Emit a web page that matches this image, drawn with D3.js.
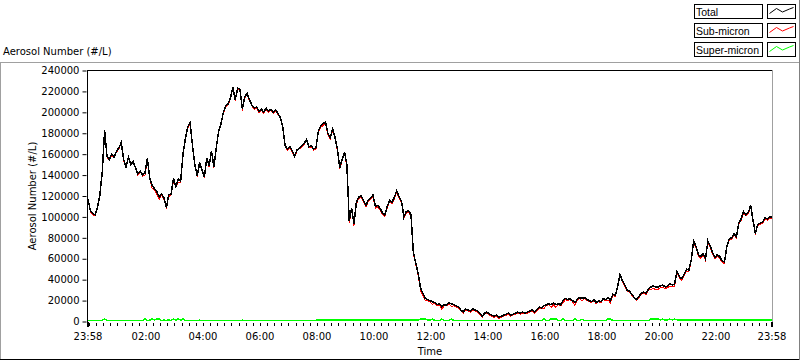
<!DOCTYPE html>
<html><head><meta charset="utf-8">
<script src="https://cdn.jsdelivr.net/npm/d3@7"></script>
<style>
html,body{margin:0;padding:0;background:#fff;}
svg{display:block;font-family:"DejaVu Sans",sans-serif;font-size:10px;}
</style></head><body>
<svg id="c" width="800" height="361"></svg>
<script>
// ---- data: 5-minute samples from 23:58 to 23:58 next day, values in thousands (#/L)
const totalK = [
117,106,103,102,109,121,143,183,158,155,160,157,
163,166,171,155,148,157,150,153,147,141,144,140,
142,156,137,130,127,124,119,122,118,109,121,122,
137,129,136,134,160,175,186,190,168,150,139,152,
145,138,156,149,163,148,166,182,189,200,206,208,
214,224,212,223,222,203,215,218,212,207,204,205,
201,203,200,204,201,203,200,202,199,195,186,168,
165,167,163,158,164,166,168,170,174,167,168,165,
166,182,187,189,191,180,176,184,176,165,147,155,
162,150,96,108,93,114,119,120,116,111,116,118,
121,110,111,108,104,102,110,116,114,119,125,119,
115,100,105,106,102,66,56,46,32,27,22,21,
20,19,18,16,17,14,16,16,18,17,16,15,
14,11,9,12,11,10,12,11,10,8,5,8,
9,7,6,5,6,4,5,6,7,8,6,7,
8,9,8,9,8,9,10,11,9,11,14,13,
15,16,17,16,18,16,17,16,20,22,21,22,
20,18,21,23,22,23,21,20,19,21,18,20,
19,22,21,23,20,26,25,33,45,39,35,30,
29,26,23,21,24,27,28,27,31,33,34,33,
33,34,35,33,34,36,35,36,48,43,41,45,
50,49,59,77,72,64,62,65,60,77,72,66,
61,64,62,58,57,72,79,80,84,81,94,98,
105,102,104,111,97,84,93,94,95,99,98,100,100
];
const superK = [
0.8,1,0.9,1,0.8,1,1.2,2.5,1,0.9,1,0.8,
1,0.9,1,0.8,1,1,0.9,1,0.8,1,1.1,1,
2.4,1,1.2,2.6,1.4,2.8,2.2,1,1.3,1,1.5,1,
2.5,1,2.6,1.2,2.4,1,1,0.9,1.1,1,1,1.2,
1,0.9,1,1.1,1,1.2,1,0.9,1,1.1,1,1,
1,1.1,1,0.9,1,1.2,1,1,0.9,1,1.1,1,
1,1,0.9,1,1.1,1,1,0.9,1,1,1.1,1,
1,0.9,1,1.1,1,1,1.2,1,1,0.9,1,1.1,
1.2,1.4,1.3,1.5,1.4,1.6,1.4,1.5,1.3,1.4,1.5,1.4,
1.5,1.4,1.6,1.5,1.4,1.5,1.6,1.4,1.5,1.5,1.6,1.4,
1.5,1.6,1.4,1.5,1.5,1.4,1.6,1.5,1.4,1.5,1.6,1.5,
1.4,1.5,1.5,1.6,1.4,1.5,1.6,1.5,2.4,2.5,2.2,1.3,
1.2,2.4,1,1.1,1,2.3,1,1.1,1,2.4,1,1,
1,1.1,1,0.9,1,1,1.1,1,0.9,1,1,1.1,
1,0.9,1,1.1,1,1,0.9,1,1.1,1,1,0.9,
1,1.1,1,1,0.9,1,1.1,1,1,1.1,1,1,
2.4,1,1,2.5,2.3,2.5,1,1,2.4,1,1,1,
1,2.4,1,1,2.3,1,1,1.1,1,1,1,1,
1,1,1,2.4,2.3,1,1,1,1,1,1,1,
1,1.1,1,1,1,1,1,1,1,2.4,2.2,2.5,
2.3,1.5,2.2,1.5,1.6,2.3,1.5,2.2,1.6,1.5,1.6,1.5,
1.5,1.6,1.5,1.5,1.6,1.5,1.5,1.6,1.5,1.5,1.6,1.5,
1.5,1.5,1.6,1.5,1.5,1.2,1.2,1.2,1.2,1.2,1.2,1.2,
1.2,1.2,1.2,1.2,1.2,1.2,1.2,1.2,1.2,1.2,1.2,1.2,1.2
];
const stepMinutes = 5;
const yTicks = [0,20000,40000,60000,80000,100000,120000,140000,160000,180000,200000,220000,240000];
const xTickHours = [2,4,6,8,10,12,14,16,18,20,22];
const seriesNames = ["Total","Sub-micron","Super-micron"];
const seriesColors = ["#000000","#ff0000","#00ff00"];
const titleText = "Aerosol Number (#/L)";
const xTitle = "Time";

// ---- layout
const svg = d3.select("#c");
const X0 = 88, X1 = 772, Y0 = 321.5, Y1 = 70.5;
const start = new Date(2000,0,1,23,58);
const end = new Date(2000,0,2,23,58);
const x = d3.scaleTime().domain([start,end]).range([X0,X1]);
const y = d3.scaleLinear().domain([0,240000]).range([Y0,Y1]);

const tOf = i => new Date(start.getTime() + i*stepMinutes*60000);
const total = totalK.map((v,i)=>({t:tOf(i), v:v*1000}));
const sup = superK.map((v,i)=>({t:tOf(i), v:v*1000}));
const sub = totalK.map((v,i)=>({t:tOf(i), v:(v-superK[i])*1000}));

// outer frame
svg.append("line").attr("x1",0).attr("x2",800).attr("y1",62.5).attr("y2",62.5).attr("stroke","#a0a0a0");
svg.append("line").attr("x1",0.5).attr("x2",0.5).attr("y1",62).attr("y2",360).attr("stroke","#a0a0a0");
svg.append("line").attr("x1",0).attr("x2",800).attr("y1",359.5).attr("y2",359.5).attr("stroke","#000");
svg.append("line").attr("x1",799.5).attr("x2",799.5).attr("y1",0).attr("y2",360).attr("stroke","#808080");

// title
svg.append("text").attr("x",3).attr("y",55).text(titleText).attr("fill","#000");

// plot frame
svg.append("line").attr("x1",X0-0.5).attr("x2",X1+0.5).attr("y1",70.5).attr("y2",70.5).attr("stroke","#000");
svg.append("line").attr("x1",X1+0.5).attr("x2",X1+0.5).attr("y1",70).attr("y2",322).attr("stroke","#a0a0a0");
svg.append("line").attr("x1",X0-0.5).attr("x2",X0-0.5).attr("y1",70).attr("y2",323).attr("stroke","#000");

// y axis
const ya = svg.append("g").attr("transform",`translate(${X0-1.5},0)`)
  .call(d3.axisLeft(y).tickValues(yTicks).tickSize(4).tickPadding(3).tickFormat(d3.format("d")));
ya.select(".domain").remove();
ya.selectAll("text").attr("font-family","DejaVu Sans").attr("font-size","10px").attr("fill","#000");
ya.selectAll("line").attr("stroke","#000");

svg.append("text").attr("transform",`translate(36,${(Y0+Y1)/2}) rotate(-90)`).attr("text-anchor","middle").text(titleText);

// x axis: minor ticks every 15 min
const minor = d3.timeMinute.every(15).range(start, end);
svg.append("g").selectAll("line").data(minor).join("line")
  .attr("x1",d=>Math.round(x(d))+0.5).attr("x2",d=>Math.round(x(d))+0.5)
  .attr("y1",323).attr("y2",326).attr("stroke","#000");
svg.append("g").selectAll("rect").data([start,end]).join("rect")
  .attr("x",d=>Math.round(x(d))-1).attr("y",322).attr("width",2).attr("height",5).attr("fill","#000");
const majors = xTickHours.map(h=>new Date(2000,0,2,h,0));
const fmt = d3.timeFormat("%H:%M");
svg.append("g").selectAll("text").data([start,...majors,end]).join("text")
  .attr("x",d=>x(d)).attr("y",340).attr("text-anchor","middle").text(d=>fmt(d));
svg.append("text").attr("x",(X0+X1)/2).attr("y",355).attr("text-anchor","middle").text(xTitle);

// lines
const line = d3.line().x(d=>x(d.t)).y(d=>y(d.v));
const g = svg.append("g").attr("shape-rendering","crispEdges");
g.append("path").datum(sup).attr("d",line).attr("fill","none").attr("stroke",seriesColors[2]).attr("stroke-width",1.5);
g.append("path").datum(sub).attr("d",line).attr("fill","none").attr("stroke",seriesColors[1]).attr("stroke-width",1);
g.append("path").datum(total).attr("d",line).attr("fill","none").attr("stroke",seriesColors[0]).attr("stroke-width",1.5);

// legend
const lg = svg.append("g");
seriesNames.forEach((n,i)=>{
  const yy = 4.5 + i*19;
  lg.append("rect").attr("x",694.5).attr("y",yy).attr("width",68).attr("height",14).attr("fill","#fff").attr("stroke","#000");
  lg.append("text").attr("x",696).attr("y",yy+11.5)
    .style("font-family","'Liberation Sans', Arial, sans-serif").style("font-size","10.5px").text(n);
  lg.append("rect").attr("x",767.5).attr("y",yy).attr("width",28).attr("height",14).attr("fill","#fff").attr("stroke","#000");
  const pts = [[2,9],[9,4],[15,7.5],[22,4.5],[26,3]].map(p=>[767.5+p[0],yy+p[1]]);
  lg.append("path").attr("d",d3.line()(pts)).attr("fill","none").attr("stroke",seriesColors[i]).attr("stroke-width",1);
});
</script>
</body></html>
